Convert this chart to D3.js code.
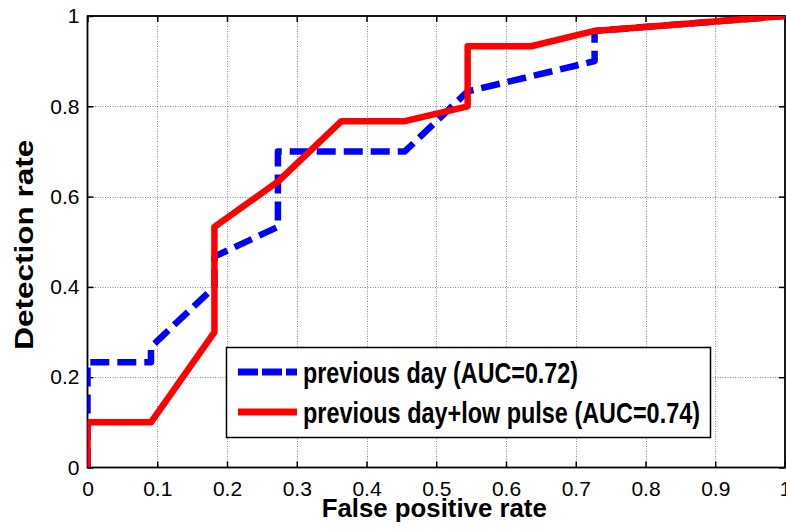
<!DOCTYPE html>
<html>
<head>
<meta charset="utf-8">
<script src="https://cdn.jsdelivr.net/npm/d3@7"></script>
<style>
  html, body { margin: 0; padding: 0; background: #fff; }
  svg { display: block; }
</style>
</head>
<body>
<svg id="chart" width="786" height="529"></svg>
<script>
// ROC curves: false positive rate vs detection rate
const fprPrev  = [0, 0, 0.091, 0.091, 0.182, 0.182, 0.273, 0.273, 0.455, 0.545, 0.727, 0.727, 1];
const tprPrev  = [0, 0.233, 0.233, 0.267, 0.4, 0.467, 0.533, 0.7, 0.7, 0.833, 0.9, 0.967, 1];
const fprPulse = [0, 0, 0.091, 0.182, 0.182, 0.273, 0.364, 0.455, 0.545, 0.545, 0.636, 0.727, 1];
const tprPulse = [0, 0.1, 0.1, 0.3, 0.533, 0.633, 0.767, 0.767, 0.8, 0.933, 0.933, 0.967, 1];

const seriesNames  = ["previous day (AUC=0.72)", "previous day+low pulse (AUC=0.74)"];
const xTickValues  = [0, 0.1, 0.2, 0.3, 0.4, 0.5, 0.6, 0.7, 0.8, 0.9, 1];
const yTickValues  = [0, 0.2, 0.4, 0.6, 0.8, 1];
const xTitle = "False positive rate";
const yTitle = "Detection rate";

const svg = d3.select("#chart");
const L = 87.5, R = 785, T = 16, B = 467.5;
const FONT = "'Liberation Sans', Arial, sans-serif";

const x = d3.scaleLinear().domain([0, 1]).range([L, R]);
const y = d3.scaleLinear().domain([0, 1]).range([B, T]);

// dotted grid
const grid = svg.append("g")
  .attr("stroke", "#8a8a8a").attr("stroke-width", 1).attr("stroke-dasharray", "1,1.5");
grid.selectAll("line.vx").data(xTickValues.slice(1, -1)).join("line")
  .attr("x1", d => Math.round(x(d)) + 0.5).attr("x2", d => Math.round(x(d)) + 0.5)
  .attr("y1", T).attr("y2", B);
grid.selectAll("line.hy").data(yTickValues.slice(1, -1)).join("line")
  .attr("y1", d => Math.round(y(d)) + 0.5).attr("y2", d => Math.round(y(d)) + 0.5)
  .attr("x1", L).attr("x2", R);

// axes with inward ticks and no domain path
const tickLen = 6;
const fmt = d => d === 0 ? "0" : d === 1 ? "1" : String(d);
const xAxis = svg.append("g").attr("transform", `translate(0,${B})`)
  .call(d3.axisBottom(x).tickValues(xTickValues).tickFormat(fmt).tickSizeInner(-tickLen).tickSizeOuter(0).tickPadding(14));
const yAxis = svg.append("g").attr("transform", `translate(${L},0)`)
  .call(d3.axisLeft(y).tickValues(yTickValues).tickFormat(fmt).tickSizeInner(-tickLen).tickSizeOuter(0).tickPadding(8));
const xAxisTop = svg.append("g").attr("transform", `translate(0,${T})`)
  .call(d3.axisTop(x).tickValues(xTickValues).tickFormat("").tickSizeInner(-tickLen).tickSizeOuter(0));
const yAxisRight = svg.append("g").attr("transform", `translate(${R},0)`)
  .call(d3.axisRight(y).tickValues(yTickValues).tickFormat("").tickSizeInner(-tickLen).tickSizeOuter(0));

[xAxis, yAxis, xAxisTop, yAxisRight].forEach(g => {
  g.select(".domain").remove();
  g.selectAll(".tick line").attr("stroke", "#000").attr("stroke-width", 1.5);
  g.selectAll(".tick text").attr("font-family", FONT).attr("font-size", 21).attr("fill", "#000");
});
xAxis.selectAll(".tick text").attr("dy", "0.71em");

// plot box
svg.append("rect").attr("x", L).attr("y", T).attr("width", R - L).attr("height", B - T)
  .attr("fill", "none").attr("stroke", "#000").attr("stroke-width", 1.8);

// curves, clipped to the axes box
svg.append("clipPath").attr("id", "plotClip")
  .append("rect").attr("x", L).attr("y", T).attr("width", R - L).attr("height", B - T);

const line = d3.line().x(d => x(d[0])).y(d => y(d[1]));
const plot = svg.append("g").attr("clip-path", "url(#plotClip)");

plot.append("path")
  .datum(d3.zip(fprPrev, tprPrev))
  .attr("d", line)
  .attr("fill", "none").attr("stroke", "#0000ff").attr("stroke-width", 6.5)
  .attr("stroke-dasharray", "19,8").attr("stroke-linejoin", "round");

plot.append("path")
  .datum(d3.zip(fprPulse, tprPulse))
  .attr("d", line)
  .attr("fill", "none").attr("stroke", "#ff0000").attr("stroke-width", 6.5)
  .attr("stroke-linejoin", "round");

// axis titles
svg.append("text")
  .attr("x", (L + R) / 2 - 2).attr("y", 517)
  .attr("text-anchor", "middle")
  .attr("font-family", FONT).attr("font-weight", "bold").attr("font-size", 26)
  .attr("textLength", 225).attr("lengthAdjust", "spacingAndGlyphs")
  .text(xTitle);

svg.append("text")
  .attr("transform", `translate(33,${(T + B) / 2 + 3}) rotate(-90)`)
  .attr("text-anchor", "middle")
  .attr("font-family", FONT).attr("font-weight", "bold").attr("font-size", 26)
  .attr("textLength", 210).attr("lengthAdjust", "spacingAndGlyphs")
  .text(yTitle);

// legend
const legend = svg.append("g");
legend.append("rect")
  .attr("x", 226.5).attr("y", 347.5).attr("width", 484).attr("height", 90)
  .attr("fill", "#fff").attr("stroke", "#000").attr("stroke-width", 1.5);

const legendItems = [
  { name: seriesNames[0], color: "#0000ff", dash: "20,4", width: 275 },
  { name: seriesNames[1], color: "#ff0000", dash: null, width: 397 }
];
legendItems.forEach((it, i) => {
  const cy = 372 + i * 40;
  legend.append("line")
    .attr("x1", 238).attr("x2", 297).attr("y1", cy).attr("y2", cy)
    .attr("stroke", it.color).attr("stroke-width", 7)
    .attr("stroke-dasharray", it.dash);
  legend.append("text")
    .attr("x", 303).attr("y", cy + 11)
    .attr("font-family", FONT).attr("font-weight", "bold").attr("font-size", 30)
    .attr("textLength", it.width).attr("lengthAdjust", "spacingAndGlyphs")
    .text(it.name);
});
</script>
</body>
</html>
